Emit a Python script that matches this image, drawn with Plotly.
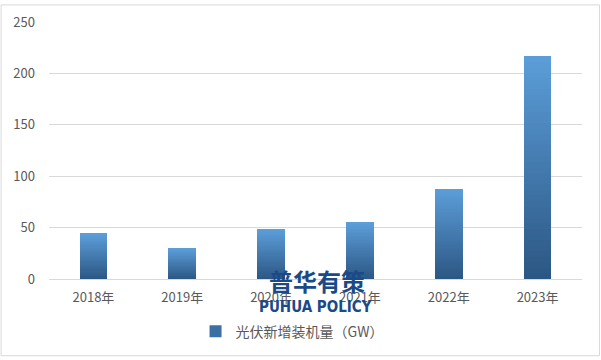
import plotly.graph_objects as go

years = ["2018年", "2019年", "2020年", "2021年", "2022年", "2023年"]
capacity = [44.26, 30.1, 48.2, 54.88, 87.41, 216.88]
series_name = "光伏新增装机量（GW）"
y_ticks = [0, 50, 100, 150, 200, 250]

N = 40
bottom_rgb = (44, 87, 132)
top_rgb = (91, 157, 216)

def mix(t):
    return "rgb(%d,%d,%d)" % tuple(round(b + (c - b) * t) for b, c in zip(bottom_rgb, top_rgb))

fig = go.Figure()
for i in range(N):
    fig.add_trace(go.Bar(
        x=years,
        y=[v / N for v in capacity],
        marker=dict(color=mix(i / (N - 1)), line=dict(width=0)),
        width=0.31,
        showlegend=False,
        hoverinfo="skip",
    ))
# legend entry
fig.add_trace(go.Bar(
    x=years, y=[0] * len(years), name=series_name,
    marker=dict(color="rgb(60,112,165)", line=dict(width=0)),
    showlegend=True, hoverinfo="skip",
))

H = 263.0
W = 534.0
fig.update_layout(
    barmode="stack",
    width=601, height=360,
    margin=dict(l=48.5, r=18.5, t=18, b=79),
    paper_bgcolor="white", plot_bgcolor="white",
    font=dict(family="Noto Sans CJK SC, Microsoft YaHei, sans-serif", size=13, color="#595959"),
    xaxis=dict(showgrid=False, showline=True, linecolor="#d9d9d9", linewidth=1,
               ticks="outside", ticklen=6, tickcolor="rgba(0,0,0,0)",
               tickfont=dict(size=13, color="#595959")),
    yaxis=dict(range=[0, 250], tickvals=y_ticks, showgrid=True, gridcolor="#d9d9d9",
               gridwidth=1, zeroline=False, showline=False, ticklabelstandoff=13,
               tickfont=dict(size=13, color="#595959")),
    legend=dict(orientation="h", x=(292 - 48.5) / W, xanchor="center",
                y=-(335 - 281) / H, yanchor="middle",
                font=dict(size=14, color="#595959"), itemwidth=30),
    shapes=[dict(type="rect", xref="paper", yref="paper",
                 x0=-48 / W, x1=1 + 17.5 / W, y0=-78.5 / H, y1=1 + 17.5 / H,
                 line=dict(color="#d9d9d9", width=1))],
    annotations=[
        dict(text="<b>普华有策</b>", xref="paper", yref="paper", x=(317.5 - 48.5) / W,
             y=-(283 - 281) / H, xanchor="center", yanchor="middle", showarrow=False,
             font=dict(size=24, color="#1b4a88", family="Noto Sans CJK SC")),
        dict(text="<b>PUHUA POLICY</b>", xref="paper", yref="paper", x=(315 - 48.5) / W,
             y=-(310 - 281) / H, xanchor="center", yanchor="middle", showarrow=False,
             font=dict(size=15, color="#1b4a88", family="DejaVu Sans Condensed")),
    ],
)

fig.write_html("out.html", config={"displayModeBar": False},
               post_script="document.body.style.margin='0';document.body.style.padding='0';")
